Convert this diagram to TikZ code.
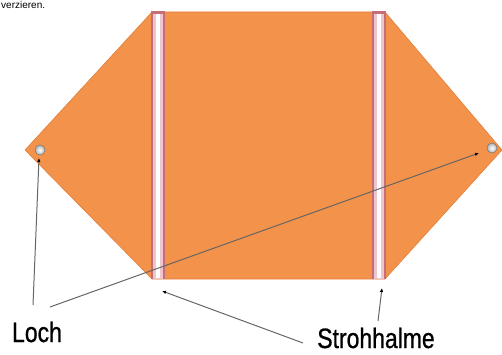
\documentclass[tikz,border=0pt]{standalone}
\usepackage{fontspec}
\setmainfont{Liberation Sans}
\newfontfamily\narrowfont[FakeStretch=0.82,FakeBold=0.8]{Liberation Sans}
\usetikzlibrary{arrows.meta}
\definecolor{paper}{RGB}{243,146,74}
\definecolor{paperedge}{RGB}{226,128,60}
\definecolor{strawdark}{RGB}{196,110,120}
\definecolor{strawlight}{RGB}{240,196,204}
\tikzset{
  lbl/.style={font=\narrowfont\fontsize{28}{30}\selectfont, inner sep=0pt, anchor=base},
  pointer/.style={draw=black!60, line width=1pt, -{Latex[length=4pt,width=3.5pt,black]}},
  hole/.style={circle, minimum size=10pt, inner sep=0pt, draw=black!55, line width=0.5pt, shading=radial, inner color=white, outer color=gray!60},
}
\begin{document}
\begin{tikzpicture}[x=1pt,y=-1pt]
\useasboundingbox (0,0) rectangle (502,355);
\node[font=\fontsize{10}{11}\selectfont, anchor=base west, inner sep=0pt] (top) at (1,8.5) {verzieren.};
% paper
\fill[paper, draw=paperedge, line width=0.6pt] (25,150) -- (152,12) -- (385,12) -- (502,150) -- (385,279) -- (152,279) -- cycle;
% straws
\foreach \x in {151,372}{
  \fill[strawdark] (\x,12) rectangle ++(14,267);
  \fill[strawlight] (\x+2,12) rectangle ++(10,267);
  \fill[white] (\x+5,13) rectangle ++(3.5,265);
  \fill[strawdark] (\x,11) rectangle ++(14,3);
}
\node[hole] (h1) at (40,150) {};
\node[hole] (h2) at (492,148) {};
\node[lbl] (loch) at (37,342) {Loch};
\node[lbl] (stroh) at (376,348) {Strohhalme};
\coordinate (l1s) at (33,305);
\coordinate (l1e) at (39,158);
\coordinate (l2s) at (50,307);
\coordinate (l2e) at (479,153);
\coordinate (s1s) at (303,343);
\coordinate (s1e) at (162,291);
\coordinate (s2s) at (378,321);
\coordinate (s2e) at (382,288);
\draw[pointer] (l1s) -- (l1e);
\draw[pointer] (l2s) -- (l2e);
\draw[pointer] (s1s) -- (s1e);
\draw[pointer] (s2s) -- (s2e);
\end{tikzpicture}
\end{document}
